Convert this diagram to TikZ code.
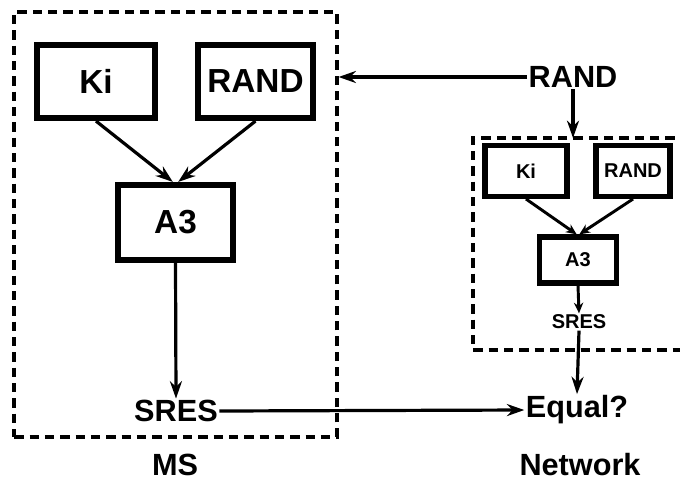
\documentclass[tikz,border=0pt]{standalone}
\usepackage{fontspec}
\setmainfont{Liberation Sans}
\usetikzlibrary{arrows.meta}
\begin{document}
\begin{tikzpicture}[x=0.75pt,y=-0.75pt,
  bigbox/.style={draw,line width=4.6pt,inner sep=0pt,minimum width=#1},
  smallbox/.style={draw,line width=4pt,inner sep=0pt,minimum width=#1},
  bigtxt/.style={font=\bfseries\fontsize{25}{28}\selectfont,inner sep=1pt},
  labtxt/.style={font=\bfseries\fontsize{23}{26}\selectfont,inner sep=1pt},
  smalltxt/.style={font=\bfseries\fontsize{15}{17}\selectfont,inner sep=1pt},
  dashbox/.style={dash pattern=on 7pt off 4.5pt,line width=2.6pt},
  arr/.style={line width=2.4pt,-{Stealth[length=13pt,width=9pt]}},
  sarr/.style={line width=2.2pt,-{Stealth[length=8pt,width=7pt]}}]
\useasboundingbox (0,0) rectangle (680,486);
% MS side
\node[draw,dashbox,minimum width=242pt,minimum height=318.75pt] (msbox) at (175.5,224.5) {};
\node[bigbox=88.5pt,minimum height=54.75pt,bigtxt] (ki) at (96,81.5) {Ki};
\node[bigbox=86.25pt,minimum height=54.75pt,bigtxt] (rand) at (255.5,81.5) {RAND};
\node[bigbox=86.25pt,minimum height=56.25pt,bigtxt] (a3) at (175.5,222.5) {A3};
\node[labtxt] (sres) at (176,411) {SRES};
\node[labtxt] (ms) at (175,465) {MS};
% Network side
\node[labtxt] (randtop) at (573,77) {RAND};
\coordinate (nbtr) at (690,138);
\coordinate (nbtl) at (473,138);
\coordinate (nbbl) at (473,350);
\coordinate (nbbr) at (690,350);
\draw[dashbox] (nbtr) -- (nbtl) -- (nbbl) -- (nbbr);
\node[smallbox=61.5pt,minimum height=38pt,smalltxt] (ki2) at (526,171) {Ki};
\node[smallbox=55.5pt,minimum height=38pt,smalltxt] (rand2) at (633,171) {RAND};
\node[smallbox=57.75pt,minimum height=34.5pt,smalltxt] (a32) at (578,260) {A3};
\node[smalltxt] (sres2) at (579,322) {SRES};
\node[labtxt] (equal) at (577,410) {Equal?};
\node[labtxt] (network) at (580,465) {Network};
% connectors
\draw[arr] (ki.south) -- ([xshift=-2pt]a3.north);
\draw[arr] (rand.south) -- ([xshift=2pt]a3.north);
\draw[arr] (a3.south) -- (sres.north);
\draw[arr] (sres.east) -- (equal.west);
\draw[arr] (randtop.west) -- (msbox.east |- randtop.west);
\coordinate (nbin) at (randtop.south |- nbtl);
\draw[arr] (randtop.south) -- (nbin);
\draw[sarr] (ki2.south) -- ([xshift=-1pt]a32.north);
\draw[sarr] (rand2.south) -- ([xshift=1pt]a32.north);
\draw[sarr] (a32.south) -- (sres2.north);
\draw[arr] (sres2.south) -- (equal.north);
\end{tikzpicture}
\end{document}
